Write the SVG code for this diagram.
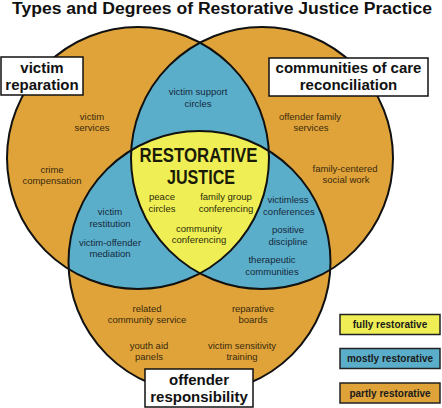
<svg xmlns="http://www.w3.org/2000/svg" width="442" height="408" viewBox="0 0 442 408">
<style>
.title{font-family:"Liberation Sans",Arial,sans-serif;font-weight:bold;font-size:16px;fill:#111}
.lbl{font-family:"Liberation Sans",Arial,sans-serif;font-weight:bold;font-size:15px;fill:#111;text-anchor:middle}
.big{font-family:"Liberation Sans",Arial,sans-serif;font-weight:bold;font-size:20px;fill:#1a1a08;text-anchor:middle}
.s{font-family:"Liberation Sans",Arial,sans-serif;font-size:9.5px;text-anchor:middle}
.so{fill:#3a2a0c}
.sb{fill:#16283a}
.sy{fill:#2c2c0a}
.leg{font-family:"Liberation Sans",Arial,sans-serif;font-weight:bold;font-size:10px;fill:#1a1a1a;text-anchor:middle}
.box{fill:#fff;stroke:#111;stroke-width:1.5}
.ring{fill:none;stroke:#111;stroke-width:2}
.orange{fill:#DFA33A}
.blue{fill:#5AAECA}
.yellow{fill:#EFEF55}
</style>
<defs>
<clipPath id="cA"><circle cx="138" cy="158" r="131"/></clipPath>
<clipPath id="cB"><circle cx="262" cy="158" r="131"/></clipPath>
<clipPath id="cC"><circle cx="199.5" cy="262" r="131"/></clipPath>
</defs>
<rect width="442" height="408" fill="#fff"/>
<text class="title" x="12" y="14" textLength="420" lengthAdjust="spacingAndGlyphs">Types and Degrees of Restorative Justice Practice</text>

<g id="circles">
<g id="circle-victim">
<circle class="orange" cx="138" cy="158" r="131"/>
</g>
<g id="circle-community">
<circle class="orange" cx="262" cy="158" r="131"/>
</g>
<g id="circle-offender">
<circle class="orange" cx="199.5" cy="262" r="131"/>
</g>
<g id="overlap-mostly">
<g clip-path="url(#cA)"><circle class="blue" cx="262" cy="158" r="131"/><circle class="blue" cx="199.5" cy="262" r="131"/></g>
<g clip-path="url(#cB)"><circle class="blue" cx="199.5" cy="262" r="131"/></g>
</g>
<g id="overlap-fully">
<g clip-path="url(#cA)"><g clip-path="url(#cB)"><circle class="yellow" cx="199.5" cy="262" r="131"/></g></g>
</g>
<g id="outlines">
<circle class="ring" cx="138" cy="158" r="131"/>
<circle class="ring" cx="262" cy="158" r="131"/>
<circle class="ring" cx="199.5" cy="262" r="131"/>
</g>
</g>

<g id="restorative-justice">
<text class="big" x="198.5" y="162" textLength="118" lengthAdjust="spacingAndGlyphs">RESTORATIVE</text>
<text class="big" x="201" y="183.5" textLength="68" lengthAdjust="spacingAndGlyphs">JUSTICE</text>
</g>

<g id="practices">
<text class="s so" x="92" y="120">victim</text>
<text class="s so" x="92" y="131">services</text>
<text class="s so" x="52" y="172.5">crime</text>
<text class="s so" x="52" y="184">compensation</text>
<text class="s so" x="310" y="120">offender family</text>
<text class="s so" x="311" y="131">services</text>
<text class="s so" x="345" y="172">family-centered</text>
<text class="s so" x="346" y="183">social work</text>
<text class="s so" x="147" y="312">related</text>
<text class="s so" x="147" y="323">community service</text>
<text class="s so" x="149" y="348.5">youth aid</text>
<text class="s so" x="149" y="360">panels</text>
<text class="s so" x="253" y="312">reparative</text>
<text class="s so" x="253" y="323">boards</text>
<text class="s so" x="242" y="348.5">victim sensitivity</text>
<text class="s so" x="242" y="360">training</text>

<text class="s sb" x="198" y="95">victim support</text>
<text class="s sb" x="198" y="107">circles</text>
<text class="s sb" x="110" y="215">victim</text>
<text class="s sb" x="110" y="227">restitution</text>
<text class="s sb" x="110" y="245.5">victim-offender</text>
<text class="s sb" x="110" y="257">mediation</text>
<text class="s sb" x="288" y="203">victimless</text>
<text class="s sb" x="289" y="214.5">conferences</text>
<text class="s sb" x="288" y="233">positive</text>
<text class="s sb" x="288" y="244.5">discipline</text>
<text class="s sb" x="272" y="263">therapeutic</text>
<text class="s sb" x="272" y="274.5">communities</text>

<text class="s sy" x="162" y="199.5">peace</text>
<text class="s sy" x="162" y="211.5">circles</text>
<text class="s sy" x="226" y="200">family group</text>
<text class="s sy" x="226" y="212">conferencing</text>
<text class="s sy" x="199" y="231.5">community</text>
<text class="s sy" x="199" y="242.5">conferencing</text>
</g>

<g id="label-victim-reparation">
<rect class="box" x="1" y="57" width="82" height="38"/>
<text class="lbl" x="42" y="73">victim</text>
<text class="lbl" x="42" y="90">reparation</text>
</g>
<g id="label-communities">
<rect class="box" x="269" y="58" width="159" height="38"/>
<text class="lbl" x="348.5" y="73">communities of care</text>
<text class="lbl" x="348.5" y="90">reconciliation</text>
</g>
<g id="label-offender">
<rect class="box" x="145" y="369" width="108" height="38"/>
<text class="lbl" x="199" y="385">offender</text>
<text class="lbl" x="199" y="402">responsibility</text>
</g>

<g id="legend">
<g id="legend-fully">
<rect x="340" y="314.5" width="100" height="20" fill="#EFEF55" stroke="#222" stroke-width="1.5"/>
<text class="leg" x="390" y="328">fully restorative</text>
</g>
<g id="legend-mostly">
<rect x="340" y="348.5" width="100" height="20" fill="#5AAECA" stroke="#222" stroke-width="1.5"/>
<text class="leg" x="390" y="362">mostly restorative</text>
</g>
<g id="legend-partly">
<rect x="340" y="383" width="100" height="20" fill="#DFA33A" stroke="#222" stroke-width="1.5"/>
<text class="leg" x="390" y="396.5">partly restorative</text>
</g>
</g>
</svg>
